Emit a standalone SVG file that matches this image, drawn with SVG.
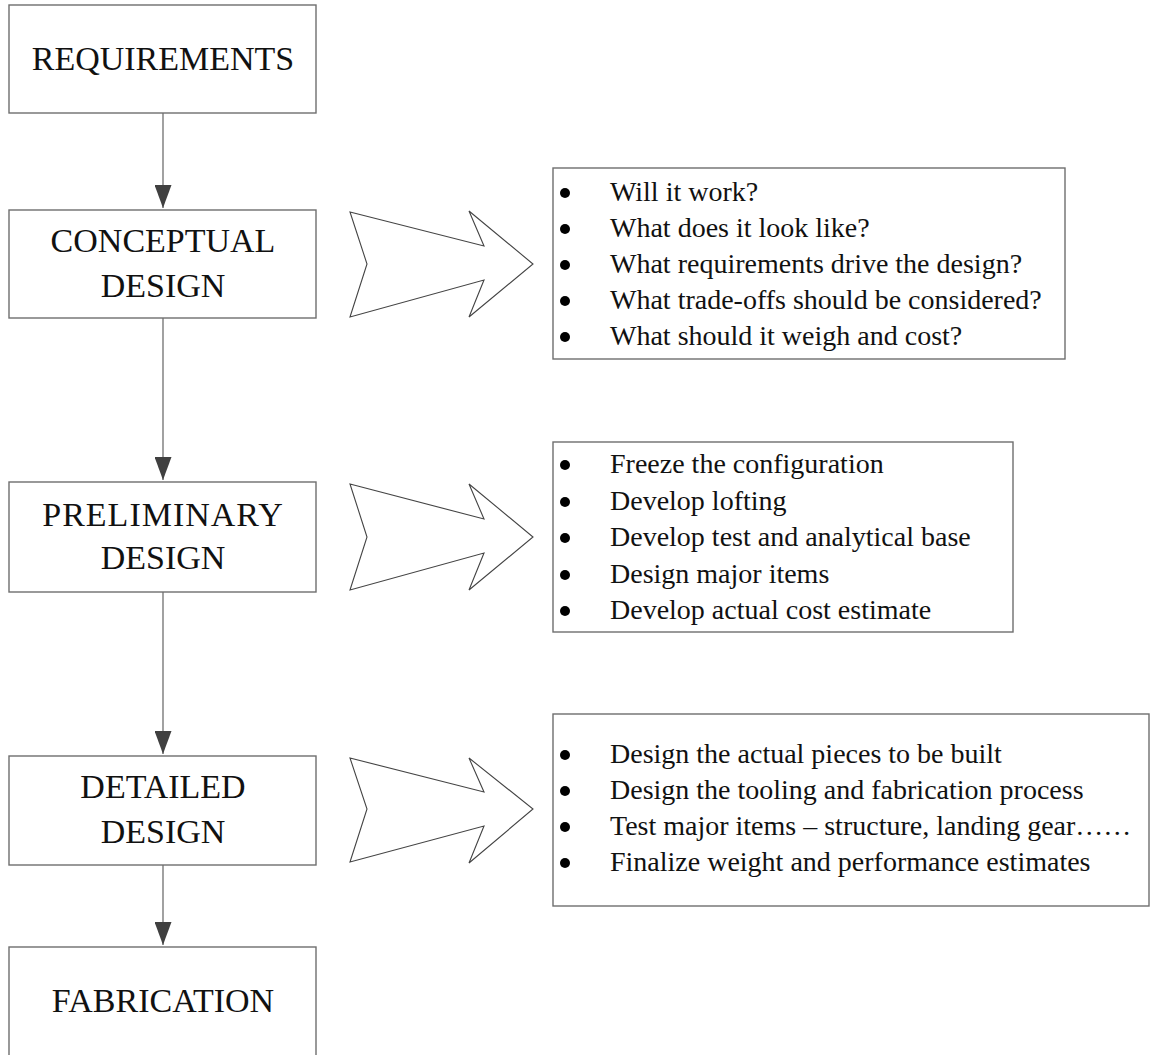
<svg xmlns="http://www.w3.org/2000/svg" width="1150" height="1055" viewBox="0 0 1150 1055">
<defs>
<style>
.box{fill:#fff;stroke:#6e6e6e;stroke-width:1.4}
.lbl{font-family:"Liberation Serif","Times New Roman",serif;font-size:34px;fill:#111;text-anchor:middle}
.itm{font-family:"Liberation Serif","Times New Roman",serif;font-size:28px;fill:#111}
.bul{fill:#000}
.con{stroke:#7a7a7a;stroke-width:1.4;fill:none}
.chev{fill:#fff;stroke:#444;stroke-width:1.1;stroke-linejoin:miter}
</style>
<marker id="ah" markerUnits="userSpaceOnUse" markerWidth="23" markerHeight="17" refX="23" refY="8.5" orient="auto" viewBox="0 0 23 17">
<path d="M0,0 L23,8.5 L0,17 Z" fill="#404040"/>
</marker>
</defs>
<rect width="1150" height="1055" fill="#fff"/>

<g id="connectors">
<line class="con" x1="163" y1="113" x2="163" y2="208" marker-end="url(#ah)"/>
<line class="con" x1="163" y1="318" x2="163" y2="480" marker-end="url(#ah)"/>
<line class="con" x1="163" y1="592" x2="163" y2="754" marker-end="url(#ah)"/>
<line class="con" x1="163" y1="865" x2="163" y2="945" marker-end="url(#ah)"/>
</g>

<g id="requirements">
<rect class="box" x="9" y="5" width="307" height="108"/>
<text class="lbl" x="163" y="70">REQUIREMENTS</text>
</g>
<g id="conceptual">
<rect class="box" x="9" y="210" width="307" height="108"/>
<text class="lbl" x="163" y="252">CONCEPTUAL</text>
<text class="lbl" x="163" y="297">DESIGN</text>
</g>
<g id="preliminary">
<rect class="box" x="9" y="482" width="307" height="110"/>
<text class="lbl" x="163" y="526" letter-spacing="1">PRELIMINARY</text>
<text class="lbl" x="163" y="569">DESIGN</text>
</g>
<g id="detailed">
<rect class="box" x="9" y="756" width="307" height="109"/>
<text class="lbl" x="163" y="798">DETAILED</text>
<text class="lbl" x="163" y="843">DESIGN</text>
</g>
<g id="fabrication">
<rect class="box" x="9" y="947" width="307" height="120"/>
<text class="lbl" x="163" y="1012">FABRICATION</text>
</g>

<g id="arrow1">
<polygon class="chev" points="350,212 484,246 469,211 533,264 469,317 484,280 350,317 367,264"/>
</g>
<g id="arrow2">
<polygon class="chev" points="350,484 484,519 469,484 533,537 469,590 484,553 350,590 367,537"/>
</g>
<g id="arrow3">
<polygon class="chev" points="350,758 484,792 469,758 533,809 469,863 484,826 350,862 367,809"/>
</g>

<g id="list1">
<rect class="box" x="553" y="168" width="512" height="191"/>
<circle class="bul" cx="565" cy="193" r="5"/>
<circle class="bul" cx="565" cy="229" r="5"/>
<circle class="bul" cx="565" cy="265" r="5"/>
<circle class="bul" cx="565" cy="301" r="5"/>
<circle class="bul" cx="565" cy="337" r="5"/>
<text class="itm" x="610" y="201">Will it work?</text>
<text class="itm" x="610" y="237">What does it look like?</text>
<text class="itm" x="610" y="273">What requirements drive the design?</text>
<text class="itm" x="610" y="309">What trade-offs should be considered?</text>
<text class="itm" x="610" y="345">What should it weigh and cost?</text>
</g>

<g id="list2">
<rect class="box" x="553" y="442" width="460" height="190"/>
<circle class="bul" cx="565" cy="465" r="5"/>
<circle class="bul" cx="565" cy="502" r="5"/>
<circle class="bul" cx="565" cy="538" r="5"/>
<circle class="bul" cx="565" cy="575" r="5"/>
<circle class="bul" cx="565" cy="611" r="5"/>
<text class="itm" x="610" y="473">Freeze the configuration</text>
<text class="itm" x="610" y="510">Develop lofting</text>
<text class="itm" x="610" y="546">Develop test and analytical base</text>
<text class="itm" x="610" y="583">Design major items</text>
<text class="itm" x="610" y="619">Develop actual cost estimate</text>
</g>

<g id="list3">
<rect class="box" x="553" y="714" width="596" height="192"/>
<circle class="bul" cx="565" cy="755" r="5"/>
<circle class="bul" cx="565" cy="791" r="5"/>
<circle class="bul" cx="565" cy="827" r="5"/>
<circle class="bul" cx="565" cy="863" r="5"/>
<text class="itm" x="610" y="763">Design the actual pieces to be built</text>
<text class="itm" x="610" y="799">Design the tooling and fabrication process</text>
<text class="itm" x="610" y="835">Test major items – structure, landing gear……</text>
<text class="itm" x="610" y="871">Finalize weight and performance estimates</text>
</g>
</svg>
